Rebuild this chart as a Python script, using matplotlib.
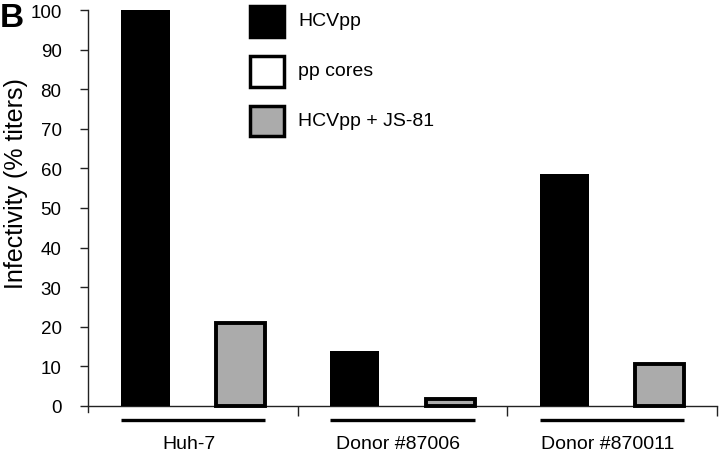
import matplotlib
matplotlib.use("Agg")
import matplotlib.pyplot as plt
from matplotlib.patches import Rectangle
import numpy as np

plt.rcParams['font.family'] = ['Liberation Sans', 'DejaVu Sans']

groups = ["Huh-7", "Donor #87006", "Donor #870011"]
series_names = ["HCVpp", "pp cores", "HCVpp + JS-81"]
hcvpp = [100, 14, 58.5]
pp_cores = [0, 0, 0]
hcvpp_js81 = [21, 1.8, 10.5]
yticks = [0, 10, 20, 30, 40, 50, 60, 70, 80, 90, 100]

face = ["black", "white", "#ababab"]
edge_lw = [0, 2.8, 2.8]

fig = plt.figure(figsize=(7.2, 4.56), dpi=100)
W, H = 720, 456
ax_left, ax_right = 88, 717
ax_top, ax_bot = 11, 412.9
ax = fig.add_axes([ax_left / W, (H - ax_bot) / H, (ax_right - ax_left) / W, (ax_bot - ax_top) / H])

x = np.arange(len(groups))
slot = 0.227
bw = 0.233
for i, vals in enumerate([hcvpp, pp_cores, hcvpp_js81]):
    off = (i - 1) * slot
    for xi, v in zip(x, vals):
        if v <= 0:
            continue
        ax.bar(xi + off, v, width=bw, color=face[i], edgecolor="black",
               linewidth=edge_lw[i], zorder=3)

ax.set_xlim(-0.5, 2.5)
ax.set_ylim(-1.5, 100)
ax.spines['top'].set_visible(False)
ax.spines['right'].set_visible(False)
ax.spines['bottom'].set_position(('data', 0))
ax.spines['left'].set_bounds(-1.5, 100)
for s in ['bottom', 'left']:
    ax.spines[s].set_linewidth(1.0)
    ax.spines[s].set_color('#222222')

ax.set_yticks(yticks)
ax.set_yticklabels([str(t) for t in yticks], fontsize=13.5)
ax.tick_params(axis='y', direction='out', length=6, width=1, pad=13, color='#222222')
ax.set_xticks([0.5, 1.5, 2.5])
ax.set_xticklabels([])
ax.tick_params(axis='x', direction='out', length=7, width=1, color='#222222')

ax.set_ylabel("Infectivity (% titers)", fontsize=18)
ax.yaxis.set_label_coords(-0.0954, 0.5695)

# group underlines and labels
half = slot + bw / 2
for xi, g in zip(x, groups):
    ax.plot([xi - half, xi + half], [-3.5, -3.5], color='black', lw=2.4,
            clip_on=False, solid_capstyle='butt')
    ax.text(xi - 0.02, -9.6, g, ha='center', va='center', fontsize=14, clip_on=False)

# panel letter
fig.text(0.0, (H - 27) / H, "B", fontsize=24, fontweight='bold', ha='left', va='baseline')

# legend drawn manually
rows = [(6.5, 37.5), (56.5, 87.5), (106.5, 137)]
for i, (name, (t, b)) in enumerate(zip(series_names, rows)):
    r = Rectangle((249.5 / W, (H - b) / H), 34 / W, (b - t) / H,
                  transform=fig.transFigure, facecolor=face[i], edgecolor='black',
                  linewidth=2.5)
    fig.add_artist(r)
    fig.text(298 / W, (H - (t + b) / 2) / H, name, fontsize=14, ha='left', va='center')

fig.savefig("out.png", dpi=100)
